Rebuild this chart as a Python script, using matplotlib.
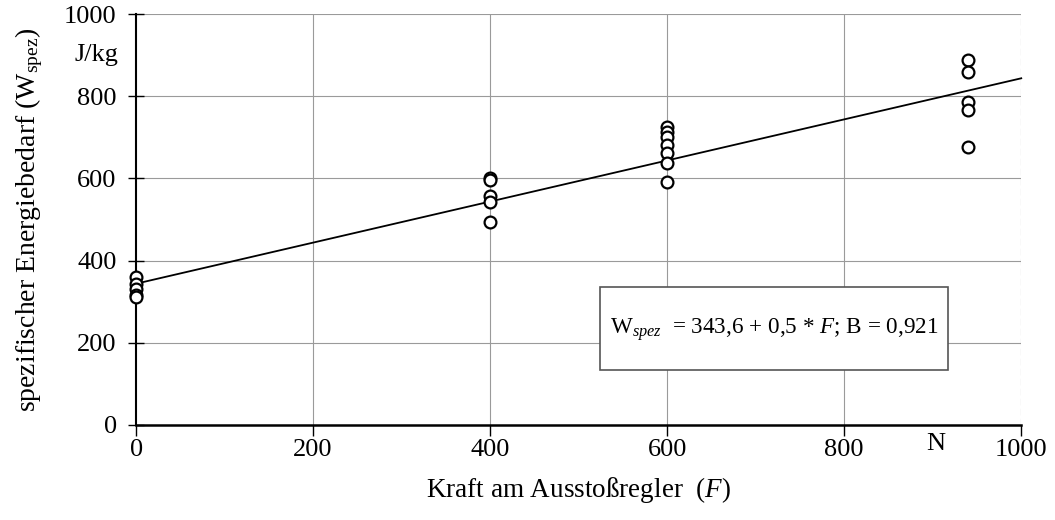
import matplotlib
matplotlib.use("Agg")
import matplotlib.pyplot as plt
import numpy as np
from matplotlib.patches import Rectangle

# Data
force_0 = [0, 0, 0, 0, 0]
energy_0 = [360, 344, 330, 316, 310]
force_400 = [400, 400, 400, 400, 400]
energy_400 = [600, 597, 557, 543, 494]
force_600 = [600, 600, 600, 600, 600, 600, 600]
energy_600 = [724, 712, 700, 682, 661, 637, 590]
force_940 = [940, 940, 940, 940, 940]
energy_940 = [888, 860, 787, 766, 677]
fit_intercept = 343.6
fit_slope = 0.5
fit_x = [0, 1000]
x_ticks = [0, 200, 400, 600, 800, 1000]
y_ticks = [0, 200, 400, 600, 800, 1000]

plt.rcParams['font.family'] = ['Liberation Serif', 'DejaVu Serif']
plt.rcParams['mathtext.fontset'] = 'custom'
plt.rcParams['mathtext.rm'] = 'Liberation Serif'
plt.rcParams['mathtext.it'] = 'Liberation Serif:italic'

fig = plt.figure(figsize=(10.55, 5.2), dpi=100)
ax = fig.add_axes([0.129, 0.183, 0.839, 0.790])

ax.set_xlim(0, 1000)
ax.set_ylim(0, 1000)

# grid
for v in [200, 400, 600, 800, 1000]:
    ax.axhline(v, color='#9a9a9a', lw=0.8, zorder=1)
for v in [200, 400, 600, 800]:
    ax.axvline(v, color='#9a9a9a', lw=0.8, zorder=1)
ax.axvline(1000, color='#9a9a9a', lw=0.8, ls=(0, (6, 3)), zorder=1)

fx = np.array(fit_x, dtype=float)
ax.plot(fx, fit_intercept + fit_slope * fx, color='black', lw=1.3, zorder=3, clip_on=False)

for xs, ys in [(force_0, energy_0), (force_400, energy_400),
               (force_600, energy_600), (force_940, energy_940)]:
    ax.plot(xs, ys, 'o', mfc='white', mec='black', mew=1.6, ms=8.5, zorder=4, clip_on=False)

for s in ['top', 'right']:
    ax.spines[s].set_visible(False)
ax.spines['left'].set_linewidth(1.5)
ax.spines['bottom'].set_linewidth(1.8)

ax.set_xticks(x_ticks)
ax.set_yticks(y_ticks)
ax.tick_params(axis='y', direction='inout', length=12, width=1, labelsize=19, pad=8)
ax.tick_params(axis='x', direction='out', length=8, width=1, labelsize=19, pad=2)

ax.set_xlabel(r'Kraft am Ausstoßregler  ($F$)', fontsize=19.5, labelpad=10)
ax.set_ylabel(r'spezifischer Energiebedarf (W$_{\rm spez}$)', fontsize=20, labelpad=14)

ax.text(-0.02, 900, 'J/kg', transform=ax.get_yaxis_transform(), ha='right', va='center', fontsize=19)
ax.text(903, -0.02, 'N', transform=ax.get_xaxis_transform(), ha='center', va='top', fontsize=19)

# equation box
ax.add_patch(Rectangle((524, 134), 393, 202, facecolor='white', edgecolor='#555555', lw=1.2, zorder=5))
ax.text(535, 231, r'W$_{\it spez}$  = 343,6 + 0,5 * $F$; B = 0,921', fontsize=16.7,
        ha='left', va='center', zorder=6)

fig.savefig('out.png', dpi=100)
